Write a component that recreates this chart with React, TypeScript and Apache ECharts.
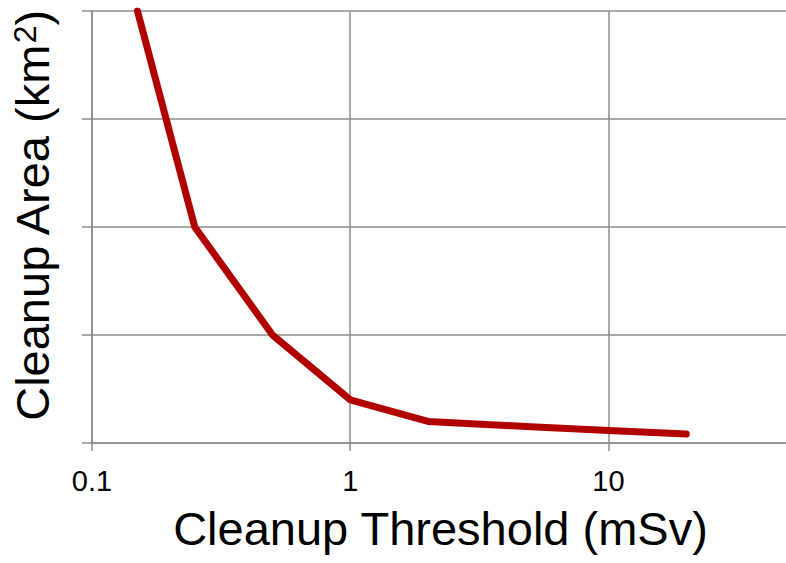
import React, { useEffect, useRef } from "react";
import * as echarts from "echarts";

const thresholds = [0.15, 0.25, 0.5, 1, 2, 5, 10, 20];
const areas = [4, 2, 1, 0.4, 0.2, 0.15, 0.115, 0.083];
const xTickLabels = ["0.1", "1", "10"];

export default function App() {
  const ref = useRef<HTMLDivElement>(null);
  useEffect(() => {
    document.body.style.margin = "0";
    const chart = echarts.init(ref.current!, null, { renderer: "svg" });
    const grid = "#8c8c8c";
    chart.setOption({
      animation: false,
      backgroundColor: "#ffffff",
      grid: { left: 92, top: 11, right: 0, bottom: 120 },
      xAxis: {
        type: "log",
        logBase: 10,
        min: 0.1,
        max: 50,
        name: "Cleanup Threshold (mSv)",
        nameLocation: "middle",
        nameGap: 62,
        nameTextStyle: { fontFamily: "Liberation Sans", fontSize: 47, color: "#000" },
        axisLine: { show: true, lineStyle: { color: grid, width: 1.5 } },
        axisTick: { show: true, length: 8, lineStyle: { color: grid, width: 1.5 } },
        minorTick: { show: false },
        axisLabel: {
          margin: 23,
          fontFamily: "Liberation Sans",
          fontSize: 29,
          color: "#000",
          formatter: (v: number) => {
            const s = String(+v.toPrecision(6));
            return xTickLabels.indexOf(s) >= 0 ? s : "";
          },
        },
        splitLine: { show: true, lineStyle: { color: grid, width: 1.5 } },
      },
      yAxis: {
        type: "value",
        min: 0,
        max: 4,
        interval: 1,
        name: "Cleanup Area (km{sup|2})",
        nameLocation: "middle",
        nameRotate: 90,
        nameGap: 36,
        nameTextStyle: {
          fontFamily: "Liberation Sans",
          fontSize: 47,
          color: "#000",
          padding: [0, 0, 0, 22],
          rich: {
            sup: { fontFamily: "Liberation Sans", fontSize: 32, verticalAlign: "top", color: "#000" },
          },
        },
        axisLine: { show: true, lineStyle: { color: grid, width: 1.5 } },
        axisTick: { show: true, length: 10, lineStyle: { color: grid, width: 1.5 } },
        axisLabel: { show: false },
        splitLine: { show: true, lineStyle: { color: grid, width: 1.5 } },
      },
      series: [
        {
          type: "line",
          data: thresholds.map((t, i) => [t, areas[i]]),
          symbol: "none",
          clip: true,
          lineStyle: { color: "#b00000", width: 7, cap: "round", join: "round" },
        },
      ],
    });
    return () => chart.dispose();
  }, []);
  return (
    <div style={{ width: 786, height: 563, overflow: "hidden" }}>
      <div ref={ref} style={{ width: 792, height: 563 }} />
    </div>
  );
}
